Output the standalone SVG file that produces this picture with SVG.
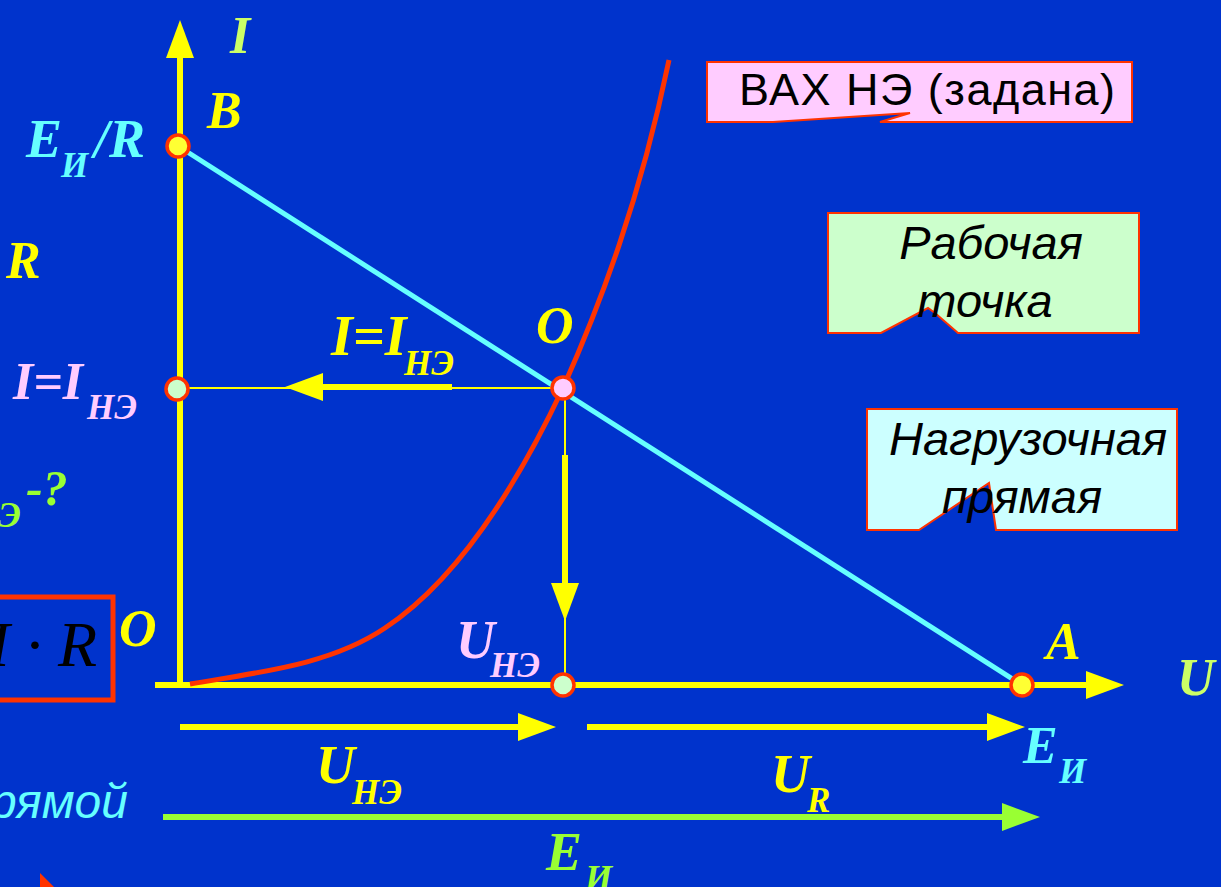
<svg xmlns="http://www.w3.org/2000/svg" width="1221" height="887" viewBox="0 0 1221 887">
  <defs>
    <marker id="ahY" markerUnits="userSpaceOnUse" markerWidth="38" markerHeight="28" refX="0" refY="14" orient="auto" overflow="visible">
      <path d="M0,0 L38,14 L0,28 Z" fill="#FFFF00"/>
    </marker>
    <marker id="ahG" markerUnits="userSpaceOnUse" markerWidth="38" markerHeight="28" refX="0" refY="14" orient="auto" overflow="visible">
      <path d="M0,0 L38,14 L0,28 Z" fill="#99FF33"/>
    </marker>
    <style>
      .m { font-family: "Liberation Serif", "Times New Roman", serif; font-weight: bold; font-style: italic; font-size: 52px; }
      .s { font-size: 35px; }
      .sans { font-family: "Liberation Sans", Arial, sans-serif; fill: #000; }
      .ax { stroke: #FFFF00; stroke-width: 6; fill: none; }
      .thin { stroke: #FFFF00; stroke-width: 2; fill: none; }
      .pt { stroke: #FF3300; stroke-width: 3.5; }
      .call { stroke: #FF3300; stroke-width: 2; }
    </style>
  </defs>
  <rect x="0" y="0" width="1221" height="887" fill="#0033CC"/>

  <g id="connectors">
    <line id="axis-I" class="ax" x1="180" y1="685" x2="180" y2="58" marker-end="url(#ahY)"/>
    <line id="axis-U" class="ax" x1="155" y1="685" x2="1086" y2="685" marker-end="url(#ahY)"/>
    <line id="proj-h" class="thin" x1="180" y1="388" x2="563" y2="388"/>
    <line id="proj-v" class="thin" x1="565" y1="388" x2="565" y2="685"/>
    <line id="arrow-I" class="ax" x1="452" y1="387" x2="323" y2="387" marker-end="url(#ahY)"/>
    <line id="arrow-U" class="ax" x1="565" y1="455" x2="565" y2="583" marker-end="url(#ahY)"/>
    <line id="arrow-UNE" class="ax" x1="180" y1="727" x2="518" y2="727" marker-end="url(#ahY)"/>
    <line id="arrow-UR" class="ax" x1="587" y1="727" x2="987" y2="727" marker-end="url(#ahY)"/>
    <line id="arrow-E" x1="163" y1="817" x2="1002" y2="817" stroke="#99FF33" stroke-width="6" marker-end="url(#ahG)"/>
  </g>

  <g id="load-line">
    <line x1="178" y1="146" x2="1022" y2="685" stroke="#66FFFF" stroke-width="5"/>
  </g>
  <g id="vax-curve">
    <path d="M190,684 C260,672 330,665 385,628 C450,585 510,500 563,388 C600,305 640,200 669,60" fill="none" stroke="#FF3300" stroke-width="5"/>
  </g>

  <g id="point-B"><circle class="pt" cx="178" cy="146" r="11" fill="#FFFF33"/></g>
  <g id="point-Iy"><circle class="pt" cx="177" cy="389" r="11" fill="#CCFFCC"/></g>
  <g id="point-O"><circle class="pt" cx="563" cy="388" r="11" fill="#FFCCFF"/></g>
  <g id="point-Ux"><circle class="pt" cx="563" cy="685" r="11" fill="#CCFFCC"/></g>
  <g id="point-A"><circle class="pt" cx="1022" cy="685" r="11" fill="#FFFF33"/></g>

  <g id="labels" class="m">
    <text x="230" y="53" fill="#CCFF66">I</text>
    <text x="207" y="128" fill="#FFFF00">B</text>
    <text fill="#66FFFF"><tspan x="26" y="157" font-size="54">E</tspan><tspan class="s" x="61" y="177">И</tspan><tspan x="94" y="157" font-size="54">/R</tspan></text>
    <text x="6" y="278" fill="#FFFF00">R</text>
    <text fill="#FFCCFF"><tspan x="13" y="399">I=I</tspan><tspan class="s" x="87" y="419">НЭ</tspan></text>
    <text fill="#99FF33"><tspan class="s" x="-2" y="527">Э</tspan><tspan x="26" y="505" font-size="50">-?</tspan></text>
    <text x="119" y="646" fill="#FFFF00">O</text>
    <text x="536" y="343" fill="#FFFF00">O</text>
    <text fill="#FFFF00"><tspan x="331" y="355" font-size="56">I=I</tspan><tspan class="s" x="404" y="375">НЭ</tspan></text>
    <text fill="#FFCCFF"><tspan x="456" y="658" font-size="54">U</tspan><tspan class="s" x="490" y="677">НЭ</tspan></text>
    <text x="1046" y="659" fill="#FFFF00">A</text>
    <text x="1177" y="695" fill="#CCFF66">U</text>
    <text fill="#66FFFF"><tspan x="1023" y="763">E</tspan><tspan class="s" x="1059" y="783">И</tspan></text>
    <text fill="#FFFF00"><tspan x="316" y="783" font-size="54">U</tspan><tspan class="s" x="352" y="804">НЭ</tspan></text>
    <text fill="#FFFF00"><tspan x="771" y="792" font-size="54">U</tspan><tspan class="s" x="807" y="812">R</tspan></text>
    <text fill="#99FF33"><tspan x="546" y="870" font-size="54">E</tspan><tspan class="s" x="585" y="890">И</tspan></text>
  </g>

  <g id="formula-box">
    <rect x="-10" y="597" width="123" height="103" fill="none" stroke="#FF3300" stroke-width="5"/>
    <text x="97" y="666" text-anchor="end" font-family="Liberation Serif, Times New Roman, serif" font-style="italic" font-size="64" fill="#000">I · R</text>
  </g>

  <g id="text-pryamoy">
    <text x="128" y="818" text-anchor="end" font-family="Liberation Sans, Arial, sans-serif" font-style="italic" font-size="48" fill="#66FFFF">рямой</text>
  </g>
  <g id="red-corner"><polygon points="40,873 40,887 54,887" fill="#FF3300"/></g>

  <g id="callout-vax">
    <path class="call" d="M707,62 H1132 V122 H880 L910,113 L773,122 H707 Z" fill="#FFCCFF"/>
    <text class="sans" x="739" y="105" font-size="45" textLength="376" lengthAdjust="spacing">ВАХ НЭ (задана)</text>
  </g>
  <g id="callout-work">
    <path class="call" d="M828,213 H1139 V333 H958 L935,313 L928,308 L881,333 H828 Z" fill="#CCFFCC"/>
    <text class="sans" font-style="italic" font-size="47" text-anchor="middle"><tspan x="991" y="259">Рабочая</tspan><tspan x="985" y="317">точка</tspan></text>
  </g>
  <g id="callout-load">
    <path class="call" d="M867,409 H1177 V530 H996 L989,483 L919,530 H867 Z" fill="#CCFFFF"/>
    <text class="sans" font-style="italic" font-size="47" text-anchor="middle"><tspan x="1028" y="455">Нагрузочная</tspan><tspan x="1022" y="513">прямая</tspan></text>
  </g>
</svg>
